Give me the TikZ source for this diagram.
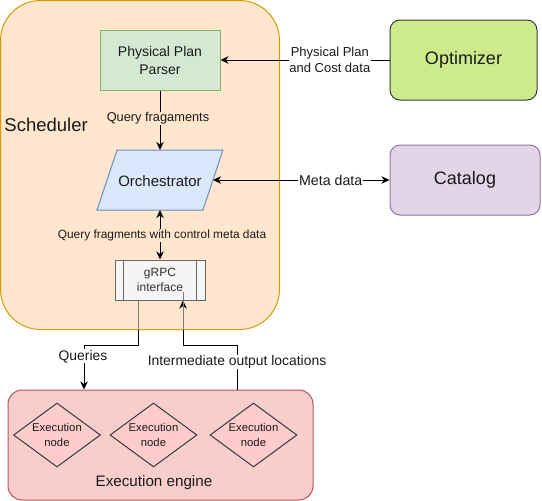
\documentclass[tikz,border=0pt]{standalone}
\usepackage{fontspec}
\setmainfont{Liberation Sans}
\usetikzlibrary{arrows.meta,shapes.geometric,calc}
\definecolor{schedfill}{HTML}{FFE6CC}
\definecolor{schedline}{HTML}{D79B00}
\definecolor{parsefill}{HTML}{D5E8D4}
\definecolor{parseline}{HTML}{82B366}
\definecolor{orchfill}{HTML}{DAE8FC}
\definecolor{orchline}{HTML}{6C8EBF}
\definecolor{grpcfill}{HTML}{F5F5F5}
\definecolor{grpcline}{HTML}{666666}
\definecolor{grpctext}{HTML}{333333}
\definecolor{engfill}{HTML}{F8CECC}
\definecolor{engline}{HTML}{B85450}
\definecolor{diafill}{HTML}{FFCCCC}
\definecolor{darkline}{HTML}{36393D}
\definecolor{optfill}{HTML}{CDEB8B}
\definecolor{catfill}{HTML}{E1D5E7}
\definecolor{catline}{HTML}{9673A6}
\definecolor{txt}{HTML}{1A1A1A}
\definecolor{fadeline}{HTML}{7A7A7A}
\newcommand{\fsz}[1]{\fontsize{#1}{#1*1.2}\selectfont}
\begin{document}
\begin{tikzpicture}[x=1pt,y=-1pt,line width=1pt,
  every node/.style={text=txt},
  box/.style={draw, inner sep=0pt, align=center},
  bigtext/.style={font=\fontsize{18}{22}\selectfont},
  lab/.style={inner sep=0.7pt, align=center},
  arr/.style={-{Stealth[length=8pt,width=7.5pt,inset=2.5pt]}},
  darr/.style={{Stealth[length=8pt,width=7.5pt,inset=2.5pt]}-{Stealth[length=8pt,width=7.5pt,inset=2.5pt]}},
  execnode/.style={diamond, draw=darkline, fill=diafill, inner sep=0pt, aspect=1.36,
     minimum width=87pt, minimum height=64pt, align=center,
     font=\fontsize{11.3}{14.7}\selectfont}
]
\useasboundingbox (0,0) rectangle (542,501);

% Scheduler container
\node[box, draw=schedline, fill=schedfill, rounded corners=40pt,
      minimum width=279pt, minimum height=329pt] (sched) at (140,165) {};
\node[anchor=west, inner sep=0pt, font=\fontsize{18.5}{22}\selectfont] (schedlab) at (4,125) {Scheduler};

% Execution engine container
\node[box, draw=engline, fill=engfill, rounded corners=14pt,
      minimum width=305pt, minimum height=110pt] (engine) at (160.5,445) {};
\node[inner sep=0pt, font=\fontsize{15.2}{18}\selectfont] (englab) at (154,483) {Execution engine};

% Inner nodes
\node[box, draw=parseline, fill=parsefill, minimum width=120pt, minimum height=60pt,
      font=\fontsize{14}{18}\selectfont] (parser) at (160,60) {Physical Plan\\Parser};

\draw[draw=orchline, fill=orchfill] (117,150) -- (223,150) -- (203,210) -- (97,210) -- cycle;
\node[inner sep=0pt, font=\fontsize{15}{18}\selectfont] (orch) at (160,181) {Orchestrator};
\coordinate (orchN) at (160,150);
\coordinate (orchS) at (160,210);
\coordinate (orchE) at (213,180);

\node[box, draw=grpcline, fill=grpcfill, minimum width=90pt, minimum height=40pt,
      font=\fontsize{12}{14.5}\selectfont, text=grpctext] (grpc) at (160,280) {gRPC\\interface};
\draw[grpcline] ([xshift=9pt]grpc.north west) -- ([xshift=9pt]grpc.south west);
\draw[grpcline] ([xshift=-9pt]grpc.north east) -- ([xshift=-9pt]grpc.south east);

% Outer nodes
\node[box, draw=darkline, fill=optfill, rounded corners=10pt, minimum width=147pt,
      minimum height=80pt, bigtext] (opt) at (463.5,60) {Optimizer};
\node[box, draw=catline, fill=catfill, rounded corners=10pt, minimum width=150pt,
      minimum height=70pt, bigtext] (cat) at (465,180) {Catalog};

% Execution nodes
\node[execnode] (e1) at (57,435) {Execution\\node};
\node[execnode] (e2) at (153.5,435) {Execution\\node};
\node[execnode] (e3) at (253.5,435) {Execution\\node};

% Connectors
\draw[arr] (opt.west) -- node[lab, fill=white, pos=0.353, font=\fontsize{13}{16}\selectfont] {Physical Plan\\and Cost data} (parser.east);
\draw[arr] (parser.south) -- node[lab, fill=schedfill, pos=0.467, xshift=-2pt, font=\fontsize{12.8}{15}\selectfont] {Query fragaments} (orchN);
\draw[darr] (orchS) -- node[lab, fill=schedfill, pos=0.52, xshift=2pt, font=\fontsize{11.9}{14}\selectfont] {Query fragments with control meta data} (grpc.north);
\draw[darr] (orchE) -- node[lab, fill=white, pos=0.667, font=\fontsize{14.2}{17}\selectfont] {Meta data} (cat.west);

\coordinate (qa) at (138,345);
\coordinate (qb) at (84,345);
\coordinate (ia) at (237,345);
\coordinate (ib) at (183,345);
\draw[arr] (qa |- grpc.south) -- (qa) -- (qb) -- node[lab, fill=white, pos=0.256, xshift=-1pt, font=\fontsize{13.9}{16}\selectfont] {Queries} (qb |- engine.north);
\draw[arr] (ia |- engine.north) -- node[lab, fill=white, pos=0.62, font=\fontsize{13.9}{16}\selectfont] {Intermediate output locations} (ia) -- (ib) -- (ib |- grpc.south);
% parts of these connectors seen through the scheduler box
\draw[fadeline] (qa |- grpc.south) -- (qa |- sched.south);
\draw[fadeline] ([yshift=9pt]ib |- grpc.south) -- (ib |- sched.south);
\end{tikzpicture}
\end{document}
